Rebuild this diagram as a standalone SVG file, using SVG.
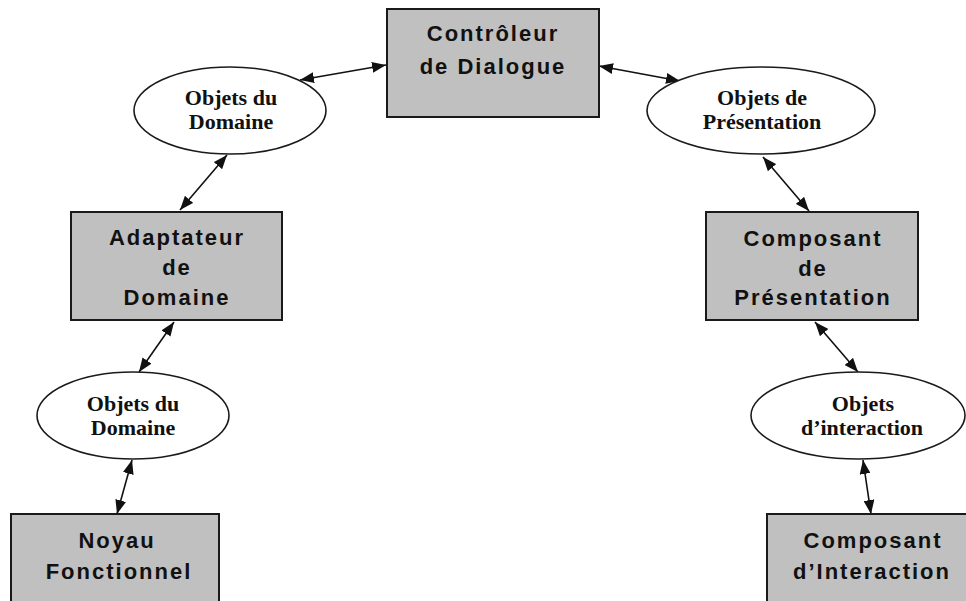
<svg xmlns="http://www.w3.org/2000/svg" width="966" height="601" viewBox="0 0 966 601">
  <style>
    .box { fill: #c0c0c0; stroke: #1a1a1a; stroke-width: 2; }
    .oval { fill: #ffffff; stroke: #1a1a1a; stroke-width: 1.6; }
    .btxt { font-family: "Liberation Sans", Arial, sans-serif; font-weight: bold; font-size: 22px; letter-spacing: 2px; fill: #111; text-anchor: middle; }
    .otxt { font-family: "Liberation Serif", "Times New Roman", serif; font-weight: bold; font-size: 22px; fill: #111; text-anchor: middle; }
    .link { fill: none; stroke: #111; stroke-width: 1.6; marker-start: url(#head); marker-end: url(#head); }
  </style>
  <defs>
    <marker id="head" viewBox="0 0 14 11" refX="14" refY="5.5" markerWidth="14" markerHeight="11" markerUnits="userSpaceOnUse" orient="auto-start-reverse">
      <path d="M0,0 L14,5.5 L0,11 Z" fill="#111"/>
    </marker>
  </defs>
  <rect width="966" height="601" fill="#ffffff"/>

  <!-- Connectors -->
  <g id="connectors">
    <path class="link" d="M300,80 L386,65"/>
    <path class="link" d="M599,66 L680,81"/>
    <path class="link" d="M227,155 L180,210"/>
    <path class="link" d="M763,157 L809,211"/>
    <path class="link" d="M174,322 L139,372"/>
    <path class="link" d="M815,322 L858,372"/>
    <path class="link" d="M132,460 L117,514"/>
    <path class="link" d="M863,460 L871,514"/>
  </g>

  <!-- Nodes -->
  <g id="controleur">
    <rect class="box" x="387" y="9" width="212" height="108"/>
    <text class="btxt" x="493" y="41">Contrôleur</text>
    <text class="btxt" x="493" y="74">de Dialogue</text>
  </g>

  <g id="objets-domaine-haut">
    <ellipse class="oval" cx="230" cy="110.5" rx="96" ry="43.5"/>
    <text class="otxt" x="231" y="105">Objets du</text>
    <text class="otxt" x="231" y="129">Domaine</text>
  </g>

  <g id="objets-presentation">
    <ellipse class="oval" cx="761" cy="110.5" rx="114" ry="43.5"/>
    <text class="otxt" x="762" y="105">Objets de</text>
    <text class="otxt" x="762" y="129">Présentation</text>
  </g>

  <g id="adaptateur">
    <rect class="box" x="71" y="212" width="211" height="108"/>
    <text class="btxt" x="177" y="245">Adaptateur</text>
    <text class="btxt" x="177" y="275">de</text>
    <text class="btxt" x="177" y="305">Domaine</text>
  </g>

  <g id="composant-presentation">
    <rect class="box" x="706" y="212" width="212" height="108"/>
    <text class="btxt" x="813" y="246">Composant</text>
    <text class="btxt" x="813" y="276">de</text>
    <text class="btxt" x="813" y="305">Présentation</text>
  </g>

  <g id="objets-domaine-bas">
    <ellipse class="oval" cx="133" cy="415.5" rx="96" ry="43.5"/>
    <text class="otxt" x="133" y="411">Objets du</text>
    <text class="otxt" x="133" y="435">Domaine</text>
  </g>

  <g id="objets-interaction">
    <ellipse class="oval" cx="858" cy="415.5" rx="107" ry="43.5"/>
    <text class="otxt" x="863" y="411">Objets</text>
    <text class="otxt" x="862" y="435">d’interaction</text>
  </g>

  <g id="noyau">
    <rect class="box" x="11" y="514" width="208" height="100"/>
    <text class="btxt" x="117" y="548">Noyau</text>
    <text class="btxt" x="119" y="579">Fonctionnel</text>
  </g>

  <g id="composant-interaction">
    <rect class="box" x="767" y="514" width="215" height="100"/>
    <text class="btxt" x="873" y="548">Composant</text>
    <text class="btxt" x="872" y="579">d’Interaction</text>
  </g>
</svg>
